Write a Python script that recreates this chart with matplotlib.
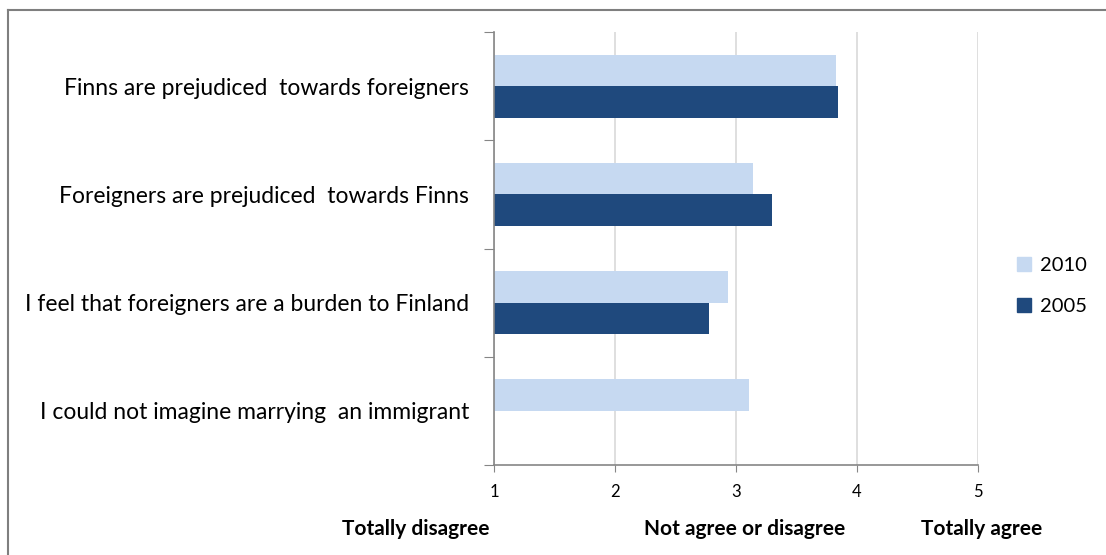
import matplotlib
matplotlib.use("Agg")
import matplotlib.pyplot as plt
from matplotlib.lines import Line2D
from matplotlib.patches import Patch
import numpy as np

plt.rcParams["font.family"] = ["Lato", "DejaVu Sans"]

# mean agreement scores, 1 = totally disagree ... 5 = totally agree
statements = [
    "Finns are prejudiced  towards foreigners",
    "Foreigners are prejudiced  towards Finns",
    "I feel that foreigners are a burden to Finland",
    "I could not imagine marrying  an immigrant",
]
score_2010 = [3.83, 3.14, 2.93, 3.11]
score_2005 = [3.84, 3.30, 2.78, np.nan]
years = ["2010", "2005"]
scale_ticks = [1, 2, 3, 4, 5]
scale_names = ["Totally disagree", "Not agree or disagree", "Totally agree"]

LIGHT = "#C6D9F1"
DARK = "#1F497D"
AXIS = "#868686"
GRID = "#D9D9D9"

fig = plt.figure(figsize=(11.06, 5.55), dpi=100)
ax = fig.add_axes([494 / 1106, 1 - 465 / 555, (978 - 494) / 1106, (465 - 32) / 555])

n = len(statements)
ypos = np.arange(n)[::-1]
h = 0.29
ax.barh(ypos + h / 2, score_2010, height=h, left=0, color=LIGHT, label=years[0])
ax.barh(ypos - h / 2, score_2005, height=h, left=0, color=DARK, label=years[1])

ax.set_xlim(1, 5)
ax.set_ylim(-0.5, n - 0.5)
ax.set_xticks(scale_ticks)
ax.set_xticklabels([str(t) for t in scale_ticks], fontsize=12)
ax.tick_params(axis="x", length=5, color=AXIS, pad=9)
ax.xaxis.grid(True, color=GRID, linewidth=1.2)
ax.set_axisbelow(True)

ax.set_yticks(np.arange(n + 1) - 0.5)
ax.set_yticklabels([])
ax.tick_params(axis="y", length=7, color=AXIS)
ax.set_yticks(ypos, minor=True)
ax.set_yticklabels(statements, minor=True, fontsize=16.5)
ax.tick_params(axis="y", which="minor", length=0, pad=18)

for s in ["top", "right"]:
    ax.spines[s].set_visible(False)
for s in ["left", "bottom"]:
    ax.spines[s].set_color(AXIS)
    ax.spines[s].set_linewidth(1.2)

# scale anchors under the axis
trans = ax.get_xaxis_transform()
ax.text(0.96, -0.148, scale_names[0], transform=trans, ha="right", va="center",
        fontsize=15, fontweight="bold")
ax.text(3.07, -0.148, scale_names[1], transform=trans, ha="center", va="center",
        fontsize=15, fontweight="bold")
ax.text(5.03, -0.148, scale_names[2], transform=trans, ha="center", va="center",
        fontsize=15, fontweight="bold")

handles = [Patch(color=LIGHT), Patch(color=DARK)]
fig.legend(handles, years, loc="center left", bbox_to_anchor=(1017 / 1106, 1 - 286 / 555),
           frameon=False, fontsize=14.5, handlelength=0.7, handleheight=0.7,
           handletextpad=0.45, labelspacing=1.15, borderpad=0, borderaxespad=0)

# chart frame
fig.add_artist(Line2D([8 / 1106, 8 / 1106], [0, 1 - 10 / 555], color="#7F7F7F", lw=1.5))
fig.add_artist(Line2D([8 / 1106, 1], [1 - 10 / 555, 1 - 10 / 555], color="#7F7F7F", lw=1.5))

fig.savefig("out.png", facecolor="white")
